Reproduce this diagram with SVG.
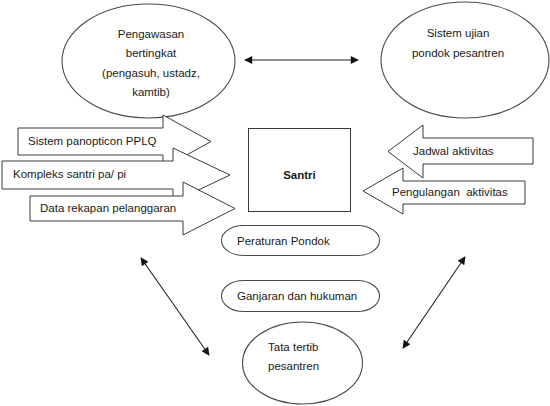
<svg xmlns="http://www.w3.org/2000/svg" width="550" height="406" viewBox="0 0 550 406">
<style>
.shape{fill:#fff;stroke:#3a3a3a;stroke-width:1}
.oval{fill:#fff;stroke:#4a4a4a;stroke-width:1.1}
.t{font-family:"Liberation Sans",Arial,sans-serif;font-size:11.5px;fill:#1a1a1a}
.c{text-anchor:middle}
.b{font-weight:bold}
.conn{fill:none;stroke:#222;stroke-width:1.1;marker-start:url(#ah);marker-end:url(#ah)}
</style>
<defs>
<marker id="ah" viewBox="0 0 10 10" refX="9" refY="5" markerWidth="9" markerHeight="8" markerUnits="userSpaceOnUse" orient="auto-start-reverse">
<path d="M0,0 L10,5 L0,10 Z" fill="#111"/>
</marker>
</defs>
<rect width="550" height="406" fill="#fff"/>

<g id="node-pengawasan">
<ellipse class="oval" cx="148.5" cy="61" rx="86.5" ry="57"/>
<text class="t c" x="151" y="38">Pengawasan</text>
<text class="t c" x="151" y="57">bertingkat</text>
<text class="t c" x="151" y="77">(pengasuh, ustadz,</text>
<text class="t c" x="151" y="96">kamtib)</text>
</g>

<g id="node-sistem-ujian">
<ellipse class="oval" cx="465" cy="60" rx="84" ry="58"/>
<text class="t c" x="458" y="37">Sistem ujian</text>
<text class="t c" x="458" y="57">pondok pesantren</text>
</g>

<g id="node-panopticon">
<path class="shape" d="M18,128 H163 V115 L211,141.5 L163,168 V155 H18 Z"/>
<text class="t" x="28" y="145">Sistem panopticon PPLQ</text>
</g>

<g id="node-kompleks">
<path class="shape" d="M2,161 H173 V148 L230,175 L173,202 V189 H2 Z"/>
<text class="t" x="13" y="178">Kompleks santri pa/ pi</text>
</g>

<g id="node-data">
<path class="shape" d="M30,196 H183 V182 L235,208.5 L183,235 V221 H30 Z"/>
<text class="t" x="40" y="212">Data rekapan pelanggaran</text>
</g>

<g id="node-santri">
<rect class="shape" x="248.5" y="128.5" width="102" height="83"/>
<text class="t c b" x="299.5" y="179">Santri</text>
</g>

<g id="node-jadwal">
<path class="shape" d="M533,138 H423 V125 L388,151.5 L423,178 V164 H533 Z"/>
<text class="t" x="413" y="155">Jadwal aktivitas</text>
</g>

<g id="node-pengulangan">
<path class="shape" d="M525,181 H403 V168 L363,191 L403,214 V204 H525 Z"/>
<text class="t" x="392" y="196" xml:space="preserve">Pengulangan  aktivitas</text>
</g>

<g id="node-peraturan">
<rect class="oval" x="221.5" y="225.5" width="158" height="30" rx="22" ry="15"/>
<text class="t" x="237" y="245">Peraturan Pondok</text>
</g>

<g id="node-ganjaran">
<rect class="oval" x="221.5" y="280.5" width="158" height="31" rx="22" ry="15.5"/>
<text class="t" x="237" y="300">Ganjaran dan hukuman</text>
</g>

<g id="node-tata-tertib">
<ellipse class="oval" cx="302.5" cy="363" rx="60" ry="41"/>
<text class="t" x="268" y="351">Tata tertib</text>
<text class="t" x="268" y="370">pesantren</text>
</g>

<g id="connectors">
<line class="conn" x1="245" y1="60" x2="358" y2="60"/>
<line class="conn" x1="141" y1="258" x2="209" y2="355"/>
<line class="conn" x1="465" y1="257" x2="403" y2="348"/>
</g>
</svg>
